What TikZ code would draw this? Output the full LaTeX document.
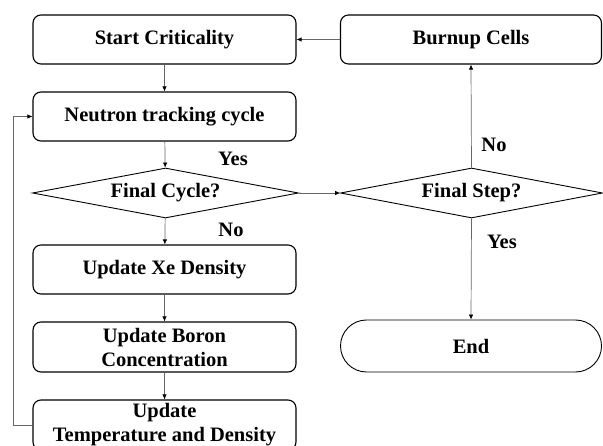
\documentclass[tikz,border=0pt]{standalone}
\usepackage{fontspec}
\setmainfont{Liberation Serif}
\usetikzlibrary{shapes.geometric,shapes.misc,arrows.meta}
\begin{document}
\begin{tikzpicture}[x=1pt,y=-1pt,
  txt/.style={font=\fontsize{20.5}{24}\selectfont\bfseries},
  stepbox/.style={txt,draw,rounded corners=8pt,line width=1.1pt,minimum width=263pt,minimum height=49pt,align=center,inner sep=0pt},
  decision/.style={txt,draw,diamond,line width=0.9pt,aspect=5.3,inner sep=0pt,minimum height=50pt},
  term/.style={txt,draw,rounded rectangle,line width=0.9pt,minimum width=262pt,minimum height=52pt,inner sep=0pt},
  conn/.style={draw=black!60,line width=0.7pt,-{Latex[length=5pt,width=4.5pt,black]}},
  lbl/.style={txt,inner sep=0pt}]
\useasboundingbox (0,0) rectangle (603,446);
\node[stepbox] (start) at (164.5,39.5) {Start Criticality};
\node[stepbox] (neutron) at (164.5,116.5) {Neutron tracking cycle};
\node[decision,minimum width=266pt] (fcycle) at (165.5,193) {Final Cycle?};
\node[stepbox] (xe) at (164.5,269.5) {Update Xe Density};
\node[stepbox,minimum height=50pt] (boron) at (164.5,347) {Update Boron\\Concentration};
\node[stepbox,minimum height=50pt] (temp) at (164.5,425) {Update\\Temperature and Density};
\node[stepbox,minimum width=261pt] (burnup) at (471,39.5) {Burnup Cells};
\node[decision,minimum width=262pt] (fstep) at (471.5,193) {Final Step?};
\node[term,minimum width=261pt] (end) at (471,346) {End};
\node[lbl] (yes1) at (233,159) {Yes};
\node[lbl] (no1) at (231,230) {No};
\node[lbl] (no2) at (494,145) {No};
\node[lbl] (yes2) at (502,242) {Yes};
\draw[conn] (start) -- (neutron);
\draw[conn] (neutron) -- (fcycle);
\draw[conn] (fcycle) -- (xe);
\draw[conn] (xe) -- (boron);
\draw[conn] (boron) -- (temp);
\draw[conn] (fcycle.east) -- (fstep.west);
\draw[conn] (fstep.north) -- (burnup.south);
\draw[conn] (burnup.west) -- (start.east);
\draw[conn] (fstep.south) -- (end.north);
\draw[conn] (temp.west) -- ++(-19,0) |- (neutron.west);
\end{tikzpicture}
\end{document}
